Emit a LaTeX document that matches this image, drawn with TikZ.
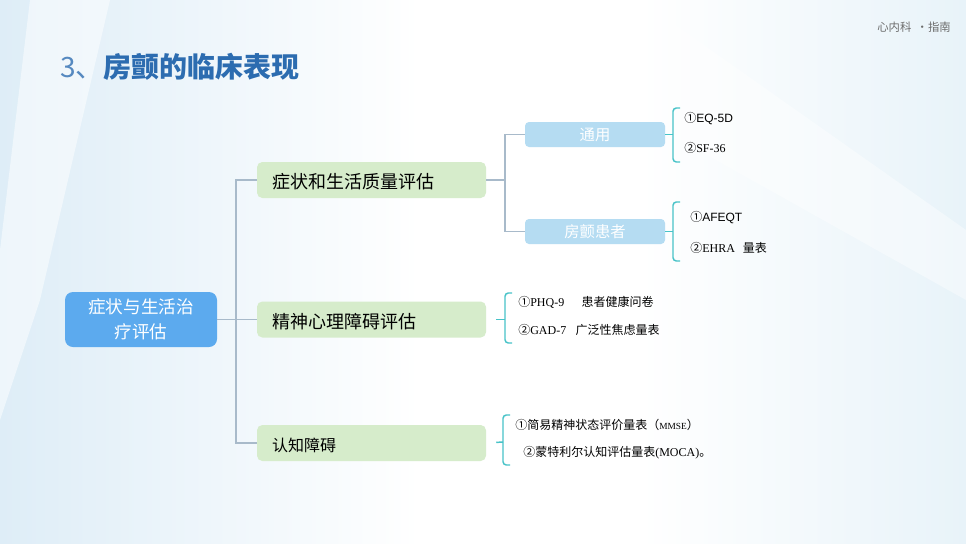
\documentclass[tikz,border=0pt]{standalone}
\usepackage{fontspec}
\setmainfont{Noto Sans CJK SC}
\newfontfamily\cjk{Noto Sans CJK SC}
\newfontfamily\lsans{Liberation Sans}
\newfontfamily\lserif{Liberation Serif}
\usetikzlibrary{calc}
\definecolor{titleblue}{RGB}{44,108,176}
\definecolor{rootblue}{RGB}{92,170,238}
\definecolor{leafgreen}{RGB}{214,236,203}
\definecolor{subblue}{RGB}{181,220,242}
\definecolor{conngray}{RGB}{168,186,202}
\definecolor{braceteal}{RGB}{72,195,200}
\definecolor{bgblue}{RGB}{222,237,247}
\definecolor{bgblue2}{RGB}{232,243,249}
\tikzset{
  rootbox/.style={draw=none, fill=rootblue, rounded corners=6pt, minimum width=114pt, minimum height=41.25pt, text=white, font=\cjk\fontsize{13.2pt}{15pt}\selectfont, align=center, inner sep=0pt},
  greenbox/.style={draw=none, fill=leafgreen, rounded corners=4pt, minimum width=171.75pt, minimum height=27pt, text width=149pt, align=left, inner xsep=11.25pt, inner ysep=0pt, text height=13pt, text depth=0pt, font=\cjk\fontsize{13.5pt}{15pt}\selectfont},
  subbox/.style={draw=none, fill=subblue, rounded corners=3pt, minimum width=105pt, minimum height=18.75pt, text=white, font=\cjk\fontsize{11.5pt}{13pt}\selectfont, inner sep=0pt},
  conn/.style={draw=conngray, line width=1pt},
  bracket/.style={draw=braceteal, line width=1.1pt, rounded corners=2.5pt},
  item/.style={anchor=west, inner sep=0pt, font=\cjk\fontsize{9pt}{11pt}\selectfont},
}
\begin{document}
\begin{tikzpicture}[x=0.75pt,y=-0.75pt]
\useasboundingbox (0,0) rectangle (966,543);
% background
\fill[white] (0,0) rectangle (966,543);
\shade[left color=bgblue, right color=white] (0,0) rectangle (420,543);
\shade[left color=white, right color=bgblue2] (640,0) rectangle (966,543);
\fill[white, opacity=0.5] (30,0) -- (110,0) -- (40,300) -- (0,420) -- (0,250) -- cycle;
\fill[white, opacity=0.4] (430,0) -- (640,0) -- (966,230) -- (966,300) -- cycle;

% header
\node[anchor=east, inner sep=0pt, text=gray!85!black, font=\cjk\fontsize{8.5pt}{10pt}\selectfont] (hdr) at (951,27) {心内科\hspace{4pt}·指南};
\node[anchor=west, inner sep=0pt, text=titleblue, font=\cjk\fontsize{21pt}{24pt}\selectfont] (title) at (60,67) {{\color{titleblue!80!white}3、}\textbf{房颤的临床表现}};

% main nodes
\node[rootbox] (root) at (141,319.5) {症状与生活治\\[4pt]疗评估};
\node[greenbox] (A) at (371.5,180) {症状和生活质量评估};
\node[greenbox] (B) at (371.5,319.5) {精神心理障碍评估};
\node[greenbox, font=\cjk\fontsize{12pt}{14pt}\selectfont] (C) at (371.5,443) {认知障碍};
\node[subbox] (S1) at (595,134.5) {通用};
\node[subbox] (S2) at (595,231.5) {房颤患者};

% connectors
\coordinate (j1) at (236,319.5);
\draw[conn] (root.east) -- (j1);
\draw[conn] (j1) |- (A.west);
\draw[conn] (j1) -- (B.west);
\draw[conn] (j1) |- (C.west);
\coordinate (j2) at (505,180);
\draw[conn] (A.east) -- (j2);
\draw[conn] (j2) |- (S1.west);
\draw[conn] (j2) |- (S2.west);

% brackets
\coordinate (b1) at (673,134.5);
\draw[bracket] (680,108) -- (673,108) -- (673,162) -- (680,162);
\draw[bracket] (S1.east) -- (b1);
\coordinate (b2) at (673,231.5);
\draw[bracket] (680,202) -- (673,202) -- (673,261) -- (680,261);
\draw[bracket] (S2.east) -- (b2);
\coordinate (b3) at (505,319.5);
\draw[bracket] (512,293) -- (505,293) -- (505,343) -- (512,343);
\draw[bracket, shorten <=7.5pt] (B.east) -- (b3);
\coordinate (b4) at (503,442);
\draw[bracket] (510,415) -- (503,415) -- (503,465) -- (510,465);
\draw[bracket, shorten <=7.5pt] (C.east) -- (b4);

% items
\node[item] (t1) at (684,119) {①{\lsans EQ-5D}};
\node[item] (t2) at (684,148) {②{\lserif SF-36}};
\node[item] (t3) at (690,218) {①{\lsans AFEQT}};
\node[item] (t4) at (690,248) {②{\lserif EHRA}\hspace{6pt}量表};
\node[item] (t5) at (518,302) {①{\lserif PHQ-9}\hspace{13pt}患者健康问卷};
\node[item] (t6) at (518,330) {②{\lserif GAD-7}\hspace{7pt}广泛性焦虑量表};
\node[item] (t7) at (515,425) {①简易精神状态评价量表（{\lserif\fontsize{7pt}{8pt}\selectfont MMSE}）};
\node[item] (t8) at (523,453) {②蒙特利尔认知评估量表{\lserif (MOCA)}。};
\end{tikzpicture}
\end{document}
